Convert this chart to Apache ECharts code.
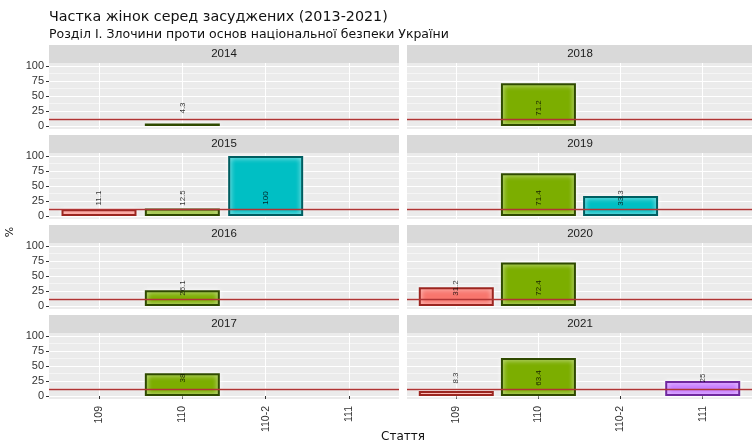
<!DOCTYPE html>
<html>
<head>
<meta charset="utf-8">
<script src="https://cdn.jsdelivr.net/npm/echarts@6/dist/echarts.min.js"></script>
<style>
  html, body { margin: 0; padding: 0; background: #fff; }
  #chart { width: 752px; height: 443px; }
</style>
</head>
<body>
<div id="chart"></div>
<script>
// data
const categories = ['109', '110', '110-2', '111'];
const years = ['2014', '2015', '2016', '2017', '2018', '2019', '2020', '2021'];
const share109 = [null, 11.1, null, null, null, null, 31.2, 8.3];
const share110 = [4.3, 12.5, 26.1, 38, 71.2, 71.4, 72.4, 63.4];
const share1102 = [null, 100, null, null, null, 33.3, null, null];
const share111 = [null, null, null, null, null, null, null, 25];
const refLine = 12;      // dark red reference line
const labelY = 30;       // height where the value labels sit
const yTicks = [0, 25, 50, 75, 100];
const yMinor = [12.5, 37.5, 62.5, 87.5];

const byCategory = [share109, share110, share1102, share111];
const fills = ['#F8766D', '#7CAE00', '#00BFC4', '#C77CFF'];
const borders = ['#9b2620', '#2f4a00', '#005e61', '#70289f'];
const FONT = '"Liberation Sans", Arial, sans-serif';
const WIDE = '"DejaVu Sans", sans-serif';

const colLeft = [49, 407];
const panelW = 350, panelH = 66, firstTop = 63, rowStep = 90, stripH = 18;
const barW = panelW * 0.9 / 4.2;

const grids = [], xAxes = [], yAxes = [], series = [], graphics = [];

years.forEach((year, k) => {
  const col = Math.floor(k / 4), row = k % 4;
  const left = colLeft[col], top = firstTop + row * rowStep;
  const bottomRow = row === 3, leftCol = col === 0;

  grids.push({ left: left, top: top, width: panelW, height: panelH,
    show: true, backgroundColor: '#EBEBEB', borderWidth: 0 });

  xAxes.push({
    type: 'value', gridIndex: k, min: 0.4, max: 4.6,
    axisLine: { show: false },
    axisTick: { show: bottomRow, length: 3, lineStyle: { color: '#333' }, customValues: [1, 2, 3, 4] },
    axisLabel: { show: bottomRow, customValues: [1, 2, 3, 4], rotate: 90, margin: 7,
      formatter: v => categories[Math.round(v) - 1] || '',
      fontFamily: FONT, fontSize: 10.5, color: '#333' },
    splitLine: { show: true, lineStyle: { color: '#fff', width: 1.1 } }
  });

  yAxes.push({
    type: 'value', gridIndex: k, min: -5, max: 105,
    axisLine: { show: false },
    axisTick: { show: leftCol, length: 3, lineStyle: { color: '#333' }, customValues: yTicks },
    axisLabel: { show: leftCol, customValues: yTicks, margin: 5,
      fontFamily: FONT, fontSize: 11, color: '#333' },
    splitLine: { show: true, lineStyle: { color: '#fff', width: 1.1 } }
  });

  const bars = [], labels = [];
  byCategory.forEach((arr, i) => {
    const v = arr[k];
    if (v == null) return;
    bars.push({ value: [i + 1, v],
      itemStyle: { color: fills[i], borderColor: borders[i], borderWidth: 2 } });
    labels.push({ value: [i + 1, labelY, v] });
  });

  series.push({
    type: 'bar', xAxisIndex: k, yAxisIndex: k, barWidth: barW, data: bars,
    itemStyle: { shadowColor: 'rgba(255,255,255,0.95)', shadowBlur: 5 },
    silent: true, animation: false,
    markLine: { silent: true, symbol: 'none', label: { show: false }, animation: false,
      lineStyle: { color: '#b03434', width: 1.3, type: 'solid', opacity: 1 },
      data: [{ yAxis: refLine }] }
  });

  series.push({
    type: 'scatter', xAxisIndex: k, yAxisIndex: k, symbolSize: 0, data: labels,
    silent: true, animation: false, z: 6,
    label: { show: true, position: 'inside', rotate: 90, formatter: p => p.value[2],
      fontFamily: FONT, fontSize: 8, color: '#000' },
    markLine: { silent: true, symbol: 'none', label: { show: false }, animation: false, z: 1,
      lineStyle: { color: '#fff', width: 0.5, type: 'solid' },
      data: yMinor.map(y => ({ yAxis: y })) }
  });

  graphics.push({ type: 'rect', shape: { x: left, y: top - stripH, width: panelW, height: stripH },
    style: { fill: '#D9D9D9' }, silent: true });
  graphics.push({ type: 'text', x: left + (col === 0 ? panelW / 2 : 173), y: top - stripH / 2,
    style: { text: year, textAlign: 'center', textVerticalAlign: 'middle',
      font: '11.5px ' + FONT, fill: '#1a1a1a' }, silent: true });
});

graphics.push({ type: 'text', x: 403, y: 437,
  style: { text: 'Стаття', textAlign: 'center', textVerticalAlign: 'middle',
    font: '12px ' + WIDE, fill: '#111' } });
graphics.push({ type: 'text', x: 10, y: 232, rotation: Math.PI / 2,
  style: { text: '%', textAlign: 'center', textVerticalAlign: 'middle',
    font: '11px ' + WIDE, fill: '#111' } });

const chart = echarts.init(document.getElementById('chart'), null, { renderer: 'canvas' });
chart.setOption({
  animation: false,
  backgroundColor: '#fff',
  title: {
    text: 'Частка жінок серед засуджених (2013-2021)',
    subtext: 'Розділ І. Злочини проти основ національної безпеки України',
    left: 44, top: 5, itemGap: 4,
    textStyle: { fontFamily: WIDE, fontSize: 14.3, fontWeight: 'normal', color: '#111' },
    subtextStyle: { fontFamily: WIDE, fontSize: 12.5, color: '#111' }
  },
  grid: grids,
  xAxis: xAxes,
  yAxis: yAxes,
  series: series,
  graphic: graphics
});
</script>
</body>
</html>
